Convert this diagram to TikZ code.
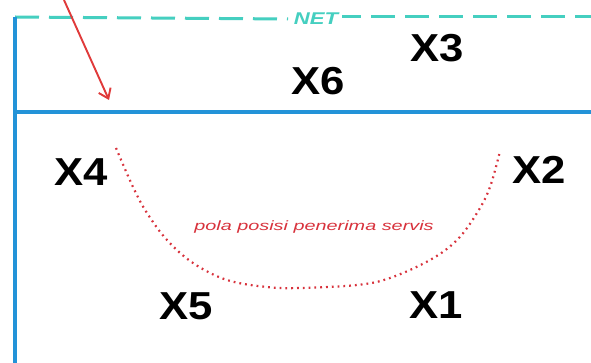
\documentclass[tikz,border=0pt]{standalone}
\usepackage{fontspec}
\usepackage{graphicx}
\usetikzlibrary{arrows.meta}
\setmainfont{Liberation Sans}
\definecolor{netcol}{HTML}{45CFC0}
\definecolor{courtblue}{HTML}{2393D8}
\definecolor{redarrow}{HTML}{E03A3A}
\definecolor{dotred}{HTML}{D8323C}
\tikzset{
  player/.style={font=\bfseries\fontsize{39}{39}\selectfont, text=black, inner sep=0pt},
  netline/.style={netcol, line width=3pt, dash pattern=on 24pt off 10pt},
  courtline/.style={courtblue, line width=3.4pt},
  pattern/.style={dotred, line width=2.2pt, dash pattern=on 1.8pt off 4pt},
}
\begin{document}
\begin{tikzpicture}[x=1pt,y=-1pt]
\useasboundingbox (0,0) rectangle (591,363);
\fill[white] (0,0) rectangle (591,363);
% net
\coordinate (nl) at (15,17);
\coordinate (nr) at (591,17);
\node[inner sep=0pt, text=netcol, font=\bfseries\itshape\fontsize{17}{17}\selectfont] (net) at (316,19) {\scalebox{1.3}[1]{NET}};
\draw[netline] (nl) -- (net.west -| 288,17);
\draw[netline, dash phase=5pt] (342,17) -- (nr);
% court lines
\coordinate (lt) at (15,17);
\coordinate (lb) at (15,363);
\coordinate (ml) at (15,112);
\coordinate (mr) at (591,112);
\draw[courtline] (lt) -- (lb);
\draw[courtline] (ml) -- (mr);
% arrow
\coordinate (as) at (64,0);
\coordinate (ae) at (109,100);
\draw[redarrow, line width=1.9pt, -{Straight Barb[length=9pt,width=13pt]}] (as) -- (ae);
% players
\node[player] (x3) at (437,48) {\scalebox{1.12}[1]{X3}};
\node[player] (x6) at (318,81) {\scalebox{1.12}[1]{X6}};
\node[player] (x4) at (81,172) {\scalebox{1.12}[1]{X4}};
\node[player] (x2) at (539,170) {\scalebox{1.12}[1]{X2}};
\node[player] (x5) at (186,306) {\scalebox{1.12}[1]{X5}};
\node[player] (x1) at (436,305) {\scalebox{1.12}[1]{X1}};
% pattern
\draw[pattern] plot[smooth, tension=0.6] coordinates {(116,148) (133,187) (147,213) (167,240) (193,263) (227,280) (267,287) (300,288) (357,285) (390,278) (430,260) (457,240) (477,213) (490,187) (500,151)};
\node[inner sep=0pt, text=dotred, font=\itshape\fontsize{13.5}{13.5}\selectfont] (lbl) at (314,227) {\scalebox{1.47}[1]{pola posisi penerima servis}};
\end{tikzpicture}
\end{document}
